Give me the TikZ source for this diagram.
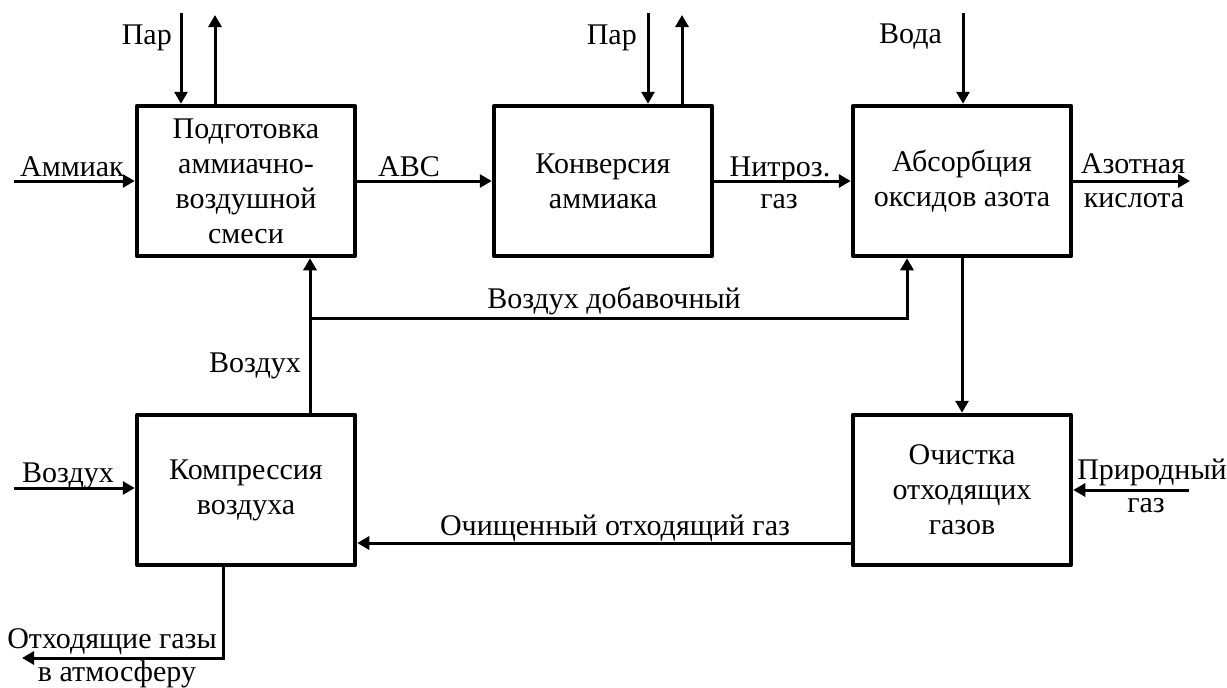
\documentclass[tikz,border=0pt]{standalone}
\usepackage{fontspec}
\setmainfont{Liberation Serif}
\usetikzlibrary{arrows.meta}
\begin{document}
\begin{tikzpicture}[x=1pt,y=-1pt,
  proc/.style={draw, line width=4.5pt, line join=round, minimum width=218pt, minimum height=150pt,
    align=center, inner sep=0pt, font=\fontsize{30}{35}\selectfont},
  lbl/.style={font=\fontsize{30}{35}\selectfont, inner sep=0pt},
  flow/.style={line width=3pt, -{Triangle[length=12pt,width=13pt]}}]
\useasboundingbox (0,0) rectangle (1227,688);

% process blocks
\node[proc] (prep)  at (246,181) {Подготовка\\аммиачно-\\воздушной\\смеси};
\node[proc] (conv)  at (603,181) {Конверсия\\аммиака};
\node[proc] (abs)   at (962,181) {Абсорбция\\оксидов азота};
\node[proc] (comp)  at (246,490) {Компрессия\\воздуха};
\node[proc] (clean) at (962,490) {Очистка\\отходящих\\газов};

% free ends of the streams
\coordinate (steam1in)  at (181,13);
\coordinate (steam1out) at (215,15);
\coordinate (steam2in)  at (648,13);
\coordinate (steam2out) at (682,15);
\coordinate (water)     at (963,13);
\coordinate (ammonia)   at (14,181);
\coordinate (acid)      at (1190,181);
\coordinate (airin)     at (14,488);
\coordinate (natgas)    at (1189,490);
\coordinate (airsplit)  at (310,318);
\coordinate (addair)    at (907,318);
\coordinate (cleanline) at (0,543);
\coordinate (exhbend)   at (223,658);
\coordinate (exhend)    at (22,658);

% steam and water
\draw[flow] (steam1in) -- (steam1in |- prep.north);
\draw[flow] (steam1out |- prep.north) -- (steam1out);
\draw[flow] (steam2in) -- (steam2in |- conv.north);
\draw[flow] (steam2out |- conv.north) -- (steam2out);
\draw[flow] (water) -- (water |- abs.north);

% main line
\draw[flow] (ammonia) -- (ammonia -| prep.west);
\draw[flow] (prep.east) -- (conv.west);
\draw[flow] (conv.east) -- (abs.west);
\draw[flow] (abs.east) -- (acid);

% air
\draw[flow] (airin) -- (airin -| comp.west);
\draw[flow] (airsplit |- comp.north) -- (airsplit |- prep.south);
\draw[flow] (airsplit) -- (addair) -- (addair |- abs.south);

% tail gas
\draw[flow] (abs.south) -- (clean.north);
\draw[flow] (natgas) -- (natgas -| clean.east);
\draw[flow] (cleanline -| clean.west) -- (cleanline -| comp.east);
\draw[flow] (exhbend |- comp.south) -- (exhbend) -- (exhend);

% stream labels
\node[lbl, anchor=base east] (l1) at (172,45) {Пар};
\node[lbl, anchor=base east] (l2) at (637,45) {Пар};
\node[lbl, anchor=base east] (l3) at (942,43) {Вода};
\node[lbl, anchor=base west] (l4) at (20,176) {Аммиак};
\node[lbl, anchor=base] (l5) at (409,176) {АВС};
\node[lbl, anchor=base] (l6) at (780,176) {Нитроз.};
\node[lbl, anchor=base] (l7) at (779,208) {газ};
\node[lbl, anchor=base] (l8) at (1133,173) {Азотная};
\node[lbl, anchor=base] (l9) at (1134,207) {кислота};
\node[lbl, anchor=base] (l10) at (614,308) {Воздух добавочный};
\node[lbl, anchor=base east] (l11) at (301,372) {Воздух};
\node[lbl, anchor=base west] (l12) at (22,482) {Воздух};
\node[lbl, anchor=base] (l13) at (615,535) {Очищенный отходящий газ};
\node[lbl, anchor=base] (l14) at (1152,479) {Природный};
\node[lbl, anchor=base] (l15) at (1146,512) {газ};
\node[lbl, anchor=base] (l16) at (112,648) {Отходящие газы};
\node[lbl, anchor=base] (l17) at (117,681) {в атмосферу};
\end{tikzpicture}
\end{document}
